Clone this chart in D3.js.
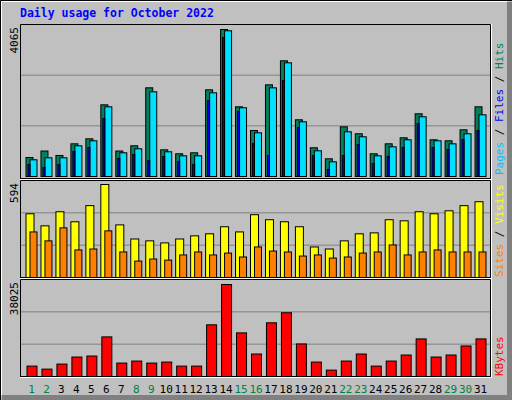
<!DOCTYPE html><html><head><script src="https://cdn.jsdelivr.net/npm/d3@7"></script>
<style>body{margin:0;background:#fff}</style></head><body><svg id="c" width="512" height="400"></svg>
<script>
const days=d3.range(1,32);
const weekend=[1,2,8,9,15,16,22,23,29,30];
const hits=[525,705,581,904,1042,1982,705,849,2452,738,628,655,2397,4065,1927,1272,2535,3199,1568,794,489,1374,1181,628,904,1070,1734,1015,987,1291,1927];
const pages=[462,517,517,849,987,1927,655,766,2342,683,572,572,2314,4029,1900,1208,2452,3144,1512,711,406,1236,1098,572,821,1015,1651,987,904,1181,1706];
const files=[332,249,332,691,802,1604,498,608,442,553,415,332,2101,3843,1797,912,581,2654,1355,581,194,581,885,359,553,802,1465,802,747,1023,1272];
const visits=[407,330,420,356,459,594,336,246,234,221,246,266,279,324,291,401,369,356,324,195,182,234,279,285,369,362,420,407,426,459,484];
const sites=[291,234,317,176,182,298,163,105,118,111,144,163,144,156,131,195,169,163,137,144,124,131,156,163,208,144,163,176,163,163,163];
const kbytes=[4300,3051,5132,8045,8461,16367,5548,6380,5548,5964,4300,4300,21360,38025,18031,9293,22192,26353,13454,5964,2635,6380,9293,4300,6380,8877,15534,8045,8877,12622,15534];

const svg=d3.select("#c");
svg.append("rect").attr("width",512).attr("height",400).attr("fill","#c0c0c0");
svg.append("rect").attr("x",507).attr("y",2).attr("width",5).attr("height",398).attr("fill","#808080");
svg.append("rect").attr("x",2).attr("y",395).attr("width",510).attr("height",5).attr("fill","#808080");
svg.append("path").attr("d","M0.5,400V0.5H512").attr("stroke","#000").attr("fill","none");
svg.append("path").attr("d","M1.5,395V1.5H507").attr("stroke","#fff").attr("fill","none");
svg.append("text").attr("x",20).attr("y",17).text("Daily usage for October 2022")
 .attr("font-family","DejaVu Sans Mono").attr("font-weight","bold").attr("font-size",11.5).attr("fill","#0000ff");

const x=d3.scaleLinear().domain([1,31]).range([25.5,474.5]);
const mono="DejaVu Sans Mono";

function panel(top,bottom,max,label){
  const y=d3.scaleLinear().domain([0,max]).range([bottom,bottom-(bottom-top-4)*0.975]);
  const g=svg.append("g");
  const h=bottom-top;
  [1,2].forEach(i=>g.append("line").attr("x1",21).attr("x2",490).attr("y1",bottom-h*i/3+0.5).attr("y2",bottom-h*i/3+0.5).attr("stroke","#808080"));
  svg.append("text").attr("transform",`translate(18,${top+3}) rotate(-90)`).attr("text-anchor","end")
   .attr("font-family",mono).attr("font-size",11).text(max);
  return y;
}
function frame(top,bottom){
  svg.append("path").attr("d",`M20.5,${bottom}V${top+0.5}H490.5V${bottom}`).attr("stroke","#000").attr("fill","none");
  svg.append("line").attr("x1",20).attr("x2",492).attr("y1",bottom+0.5).attr("y2",bottom+0.5).attr("stroke","#000");
  svg.append("line").attr("x1",20).attr("x2",492).attr("y1",bottom+1.5).attr("y2",bottom+1.5).attr("stroke","#fff");
  svg.append("line").attr("x1",491.5).attr("x2",491.5).attr("y1",top).attr("y2",bottom+2).attr("stroke","#fff");
}
function bars(vals,y,dx,w,color,bottom){
  svg.append("g").selectAll("rect").data(vals).join("rect")
   .attr("x",(d,i)=>x(i+1)+dx+0.5).attr("y",d=>y(d)+0.5).attr("width",w).attr("height",d=>bottom-y(d))
   .attr("fill",color).attr("stroke","#000").attr("stroke-width",1);
}
// top panel
frame(24,178);
let y1=panel(24,176,4065);
y1.range([176,29]);
bars(hits,y1,0,7,"#00805c",176);
bars(pages,y1,4,7,"#00e0ff",176);
bars(files,y1,2,2,"#0000ff",176);
// middle
frame(180,277);
let y2=panel(180,277,594);
y2.range([277,184]);
bars(visits,y2,0,8,"#ffff00",277);
bars(sites,y2,4,7,"#ff8000",277);
// bottom
frame(279,376);
let y3=panel(279,376,38025);
y3.range([376,284]);
bars(kbytes,y3,1,10,"#ff0000",376);

svg.append("g").selectAll("text").data(days).join("text")
 .attr("x",d=>x(d)+6).attr("y",393).attr("text-anchor","middle")
 .attr("font-family",mono).attr("font-size",11)
 .attr("fill",d=>weekend.includes(d)?"#008040":"#000").text(d=>d);

function side(yEnd,parts){
  const t=svg.append("text").attr("transform",`translate(503,${yEnd}) rotate(-90)`)
   .attr("font-family",mono).attr("font-size",11);
  parts.forEach(p=>t.append("tspan").attr("fill",p[1]).text(p[0]));
}
side(175,[["Pages","#00c0ff"],[" / ","#000"],["Files","#0000ff"],[" / ","#000"],["Hits","#00805c"]]);
side(277,[["Sites","#ff8000"],[" / ","#000"],["Visits","#ffff00"]]);
side(376,[["KBytes","#ff0000"]]);
</script></body></html>
